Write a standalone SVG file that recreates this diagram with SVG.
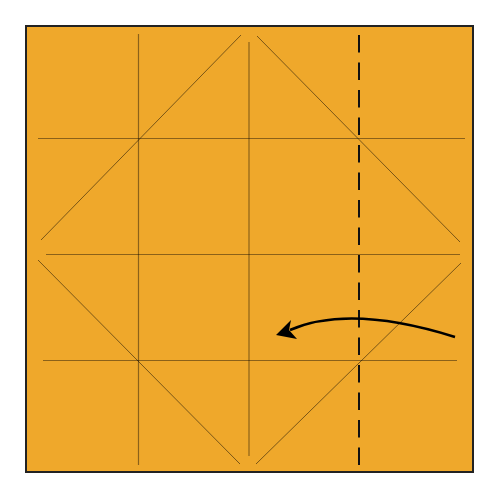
<svg xmlns="http://www.w3.org/2000/svg" width="500" height="500" viewBox="0 0 500 500">
<defs>
<style>
.grid{stroke:#000;stroke-opacity:0.42;stroke-width:1.2;fill:none}
.diag{stroke:#000;stroke-opacity:0.55;stroke-width:0.9;fill:none}
.dash{stroke:#111;stroke-width:2;stroke-dasharray:17.5 10;fill:none}
.arrow{stroke:#000;stroke-width:2.5;fill:none}
</style>
</defs>
<rect id="paper" x="26" y="26" width="447" height="446" fill="#EFA82B" stroke="#222" stroke-width="2"/>
<g id="grid">
<line class="grid" x1="138.5" y1="34" x2="138.5" y2="465"/>
<line class="grid" x1="249" y1="42" x2="249" y2="456"/>
<line class="grid" x1="38" y1="138.5" x2="465" y2="138.5"/>
<line class="grid" x1="46" y1="254.5" x2="460" y2="254.5"/>
<line class="grid" x1="43" y1="360.5" x2="457" y2="360.5"/>
</g>
<g id="diagonals">
<line class="diag" x1="241" y1="35" x2="41" y2="240"/>
<line class="diag" x1="257" y1="36" x2="460" y2="242"/>
<line class="diag" x1="38" y1="260" x2="240" y2="464"/>
<line class="diag" x1="461" y1="263" x2="256" y2="464"/>
</g>
<line id="valley" class="dash" x1="359" y1="35" x2="359" y2="465"/>
<g id="fold-arrow">
<path class="arrow" d="M455,337 Q350,304 290,330"/>
<path d="M276,335 L291,320 L289,330 L297,339 Z" fill="#000"/>
</g>
</svg>
